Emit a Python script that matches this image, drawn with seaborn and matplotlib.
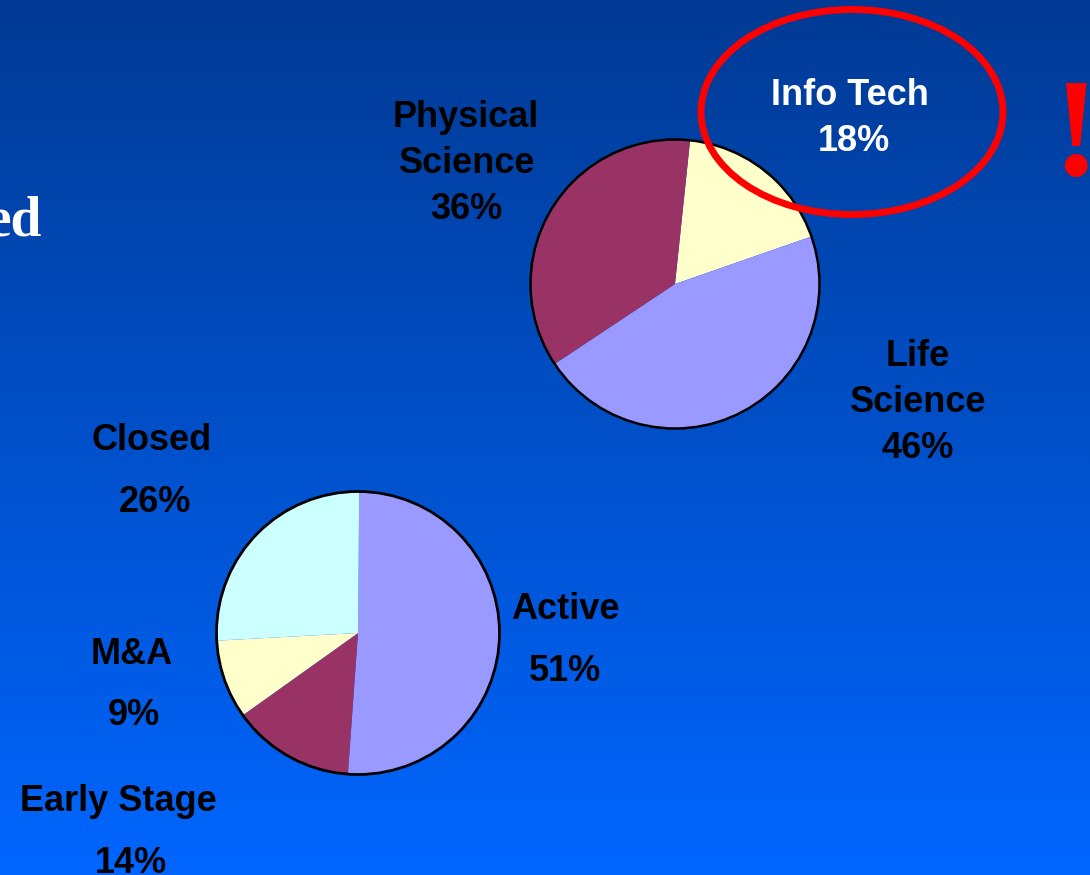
import numpy as np
import matplotlib.pyplot as plt
import seaborn as sns
from matplotlib.patches import Circle, Ellipse
from matplotlib.colors import LinearSegmentedColormap

sns.set_style("white")
plt.rcParams["font.family"] = ["Liberation Sans", "DejaVu Sans"]

# pizza de cima: area de atuacao
areas = ["Info Tech", "Life\nScience", "Physical\nScience"]
areas_pct = [18, 46, 36]
areas_cores = ["#FFFFCC", "#9999FF", "#993366"]

# pizza de baixo: situacao
situacao = ["Active", "Early Stage", "M&A", "Closed"]
situacao_pct = [51, 14, 9, 26]
situacao_cores = ["#9999FF", "#993366", "#FFFFCC", "#CCFFFF"]

W, H = 1090, 875
fig = plt.figure(figsize=(W / 100, H / 100), dpi=100)
ax = fig.add_axes([0, 0, 1, 1])

# fundo em degrade (azul escuro em cima, azul claro embaixo)
fundo = LinearSegmentedColormap.from_list("fundo", ["#003A94", "#0066FF"])
grad = np.linspace(0, 1, 256).reshape(-1, 1)
ax.imshow(grad, cmap=fundo, extent=(0, W, 0, H), origin="upper", aspect="auto", zorder=0)


def py(y):
    # coordenada em pixels (de cima para baixo) -> eixo (de baixo para cima)
    return H - y


# pizza 1
c1, r1 = (675, py(284)), 144.5
ax.pie(areas_pct, colors=areas_cores, startangle=84, counterclock=False,
       center=c1, radius=r1, wedgeprops=dict(linewidth=0), frame=True)
ax.add_patch(Circle(c1, r1, fill=False, ec="black", lw=1.8, zorder=3))

# pizza 2
c2, r2 = (358, py(633)), 141.5
ax.pie(situacao_pct, colors=situacao_cores, startangle=89.5, counterclock=False,
       center=c2, radius=r2, wedgeprops=dict(linewidth=0), frame=True)
ax.add_patch(Circle(c2, r2, fill=False, ec="black", lw=2.0, zorder=3))

# rotulos: (x de cada linha, baseline da 1a linha, espacamento, cor)
pos_areas = [((850, 854), 105, 46, "white"),
             ((918, 918, 918), 366, 46, "black"),
             ((466, 467, 466), 127, 46, "black")]
pos_situacao = [((565, 565), 619, 62, "black"),
                ((118, 131), 811, 62, "black"),
                ((132, 134), 664, 61, "black"),
                ((152, 155), 450, 62, "black")]


def rotular(nomes, pcts, posicoes):
    for nome, pct, (xs, y0, dy, cor) in zip(nomes, pcts, posicoes):
        linhas = nome.split("\n") + [f"{pct}%"]
        for i, (linha, x) in enumerate(zip(linhas, xs)):
            ax.text(x, py(y0 + i * dy), linha, ha="center", va="baseline",
                    fontsize=26, fontweight="bold", color=cor, zorder=6)


rotular(areas, areas_pct, pos_areas)
rotular(situacao, situacao_pct, pos_situacao)

# destaque em vermelho
ax.add_patch(Ellipse((852, py(112)), 302, 205, fill=False, ec="#FF0000", lw=5, zorder=5))
ax.text(1075, py(175), "!", ha="center", va="baseline", fontsize=101,
        fontweight="bold", color="#FF0000", family=["Liberation Serif"], zorder=6)

# resto do titulo cortado na borda esquerda
ax.text(42, py(236), "ed", ha="right", va="baseline", fontsize=40,
        fontweight="bold", color="white", family=["Liberation Serif"], zorder=6)

ax.set_xlim(0, W)
ax.set_ylim(0, H)
ax.set_aspect("auto")
ax.axis("off")

fig.savefig("out.png", dpi=100)
plt.close()
